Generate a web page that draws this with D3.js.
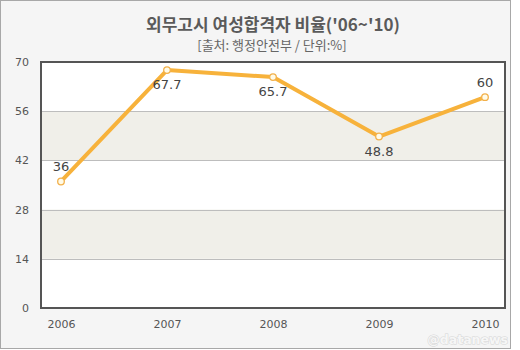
<!DOCTYPE html>
<html>
<head>
<meta charset="utf-8">
<script src="https://cdn.jsdelivr.net/npm/d3@7"></script>
<style>
  html, body { margin: 0; padding: 0; background: #ffffff; }
  svg { display: block; }
  text { font-family: "Noto Sans CJK KR", "Noto Sans", sans-serif; }
</style>
</head>
<body>
<svg id="chart" width="520" height="350"></svg>
<script>
// Share of women among those passing the foreign service exam
const years = ["2006", "2007", "2008", "2009", "2010"];
const rates = [36, 67.7, 65.7, 48.8, 60];
const labelSide = ["above", "below", "below", "below", "above"];
const yTicks = [0, 14, 28, 42, 56, 70];
const shadedBands = [[14, 28], [42, 56]];

const titleText = "외무고시 여성합격자 비율('06~'10)";
const subtitleText = "[출처: 행정안전부 / 단위:%]";

const svg = d3.select("#chart");
const frame = { left: 41, right: 505, top: 62, bottom: 308 };

// Outer panel
svg.append("rect")
  .attr("x", 0.5).attr("y", 0.5)
  .attr("width", 510).attr("height", 348)
  .attr("fill", "#f5f5f5")
  .attr("stroke", "#a8a8a8").attr("stroke-width", 1);

// Titles
svg.append("text")
  .attr("x", 273).attr("y", 31)
  .attr("text-anchor", "middle")
  .attr("font-size", 17).attr("font-weight", "bold")
  .attr("fill", "#5a5a5a")
  .text(titleText);

svg.append("text")
  .attr("x", 272).attr("y", 50)
  .attr("text-anchor", "middle")
  .attr("font-size", 13)
  .attr("fill", "#666")
  .text(subtitleText);

const x = d3.scalePoint().domain(years).range([61, 485]);
const y = d3.scaleLinear().domain([0, 70]).range([frame.bottom, frame.top]);

// Plot background and alternating bands
svg.append("rect")
  .attr("x", frame.left).attr("y", frame.top)
  .attr("width", frame.right - frame.left).attr("height", frame.bottom - frame.top)
  .attr("fill", "#ffffff");

svg.selectAll("rect.band").data(shadedBands).enter().append("rect")
  .attr("class", "band")
  .attr("x", frame.left).attr("width", frame.right - frame.left)
  .attr("y", d => y(d[1])).attr("height", d => y(d[0]) - y(d[1]))
  .attr("fill", "#f0efe9");

// Horizontal grid lines
svg.selectAll("line.grid").data(yTicks.filter(t => t > 0 && t < 70)).enter().append("line")
  .attr("class", "grid")
  .attr("x1", frame.left).attr("x2", frame.right)
  .attr("y1", d => Math.round(y(d)) + 0.5).attr("y2", d => Math.round(y(d)) + 0.5)
  .attr("stroke", "#bdbdbd").attr("stroke-width", 1);

// Frame
svg.append("rect")
  .attr("x", frame.left).attr("y", frame.top)
  .attr("width", frame.right - frame.left).attr("height", frame.bottom - frame.top)
  .attr("fill", "none")
  .attr("stroke", "#555").attr("stroke-width", 2);

// Axes (text only)
const yAxis = d3.axisLeft(y).tickValues(yTicks).tickSize(0).tickPadding(0);
const gy = svg.append("g").attr("transform", "translate(29,0)").call(yAxis);
gy.select(".domain").remove();
gy.selectAll("text")
  .attr("font-size", 11).attr("fill", "#555")
  .style("font-family", "'DejaVu Sans', sans-serif");

const xAxis = d3.axisBottom(x).tickSize(0).tickPadding(0);
const gx = svg.append("g").attr("transform", "translate(0,320)").call(xAxis);
gx.select(".domain").remove();
gx.selectAll("text")
  .attr("font-size", 11).attr("fill", "#555")
  .style("font-family", "'DejaVu Sans', sans-serif");

// Data line
const pts = years.map((yr, i) => ({ year: yr, value: rates[i], side: labelSide[i] }));
svg.append("path")
  .datum(pts)
  .attr("d", d3.line().x(d => x(d.year)).y(d => y(d.value)))
  .attr("fill", "none")
  .attr("stroke", "#f7b23b").attr("stroke-width", 4)
  .attr("stroke-linejoin", "round").attr("stroke-linecap", "round");

svg.selectAll("circle.pt").data(pts).enter().append("circle")
  .attr("class", "pt")
  .attr("cx", d => x(d.year)).attr("cy", d => y(d.value))
  .attr("r", 3.3)
  .attr("fill", "#fffbe8")
  .attr("stroke", "#f2b04a").attr("stroke-width", 1.3);

// Value labels
svg.selectAll("text.val").data(pts).enter().append("text")
  .attr("class", "val")
  .attr("x", d => x(d.year))
  .attr("y", d => y(d.value) + (d.side === "above" ? -10 : 19))
  .attr("text-anchor", "middle")
  .attr("font-size", 13).attr("fill", "#444")
  .style("font-family", "'DejaVu Sans', sans-serif")
  .text(d => d.value);

// Watermark
svg.append("text")
  .attr("x", 508).attr("y", 344)
  .attr("text-anchor", "end")
  .attr("font-size", 12.5).attr("font-weight", "bold")
  .attr("fill", "#f6f6f6")
  .attr("stroke", "#d6d6d6").attr("stroke-width", 1)
  .attr("paint-order", "stroke")
  .style("font-family", "'DejaVu Sans', sans-serif")
  .text("@datanews");
</script>
</body>
</html>
